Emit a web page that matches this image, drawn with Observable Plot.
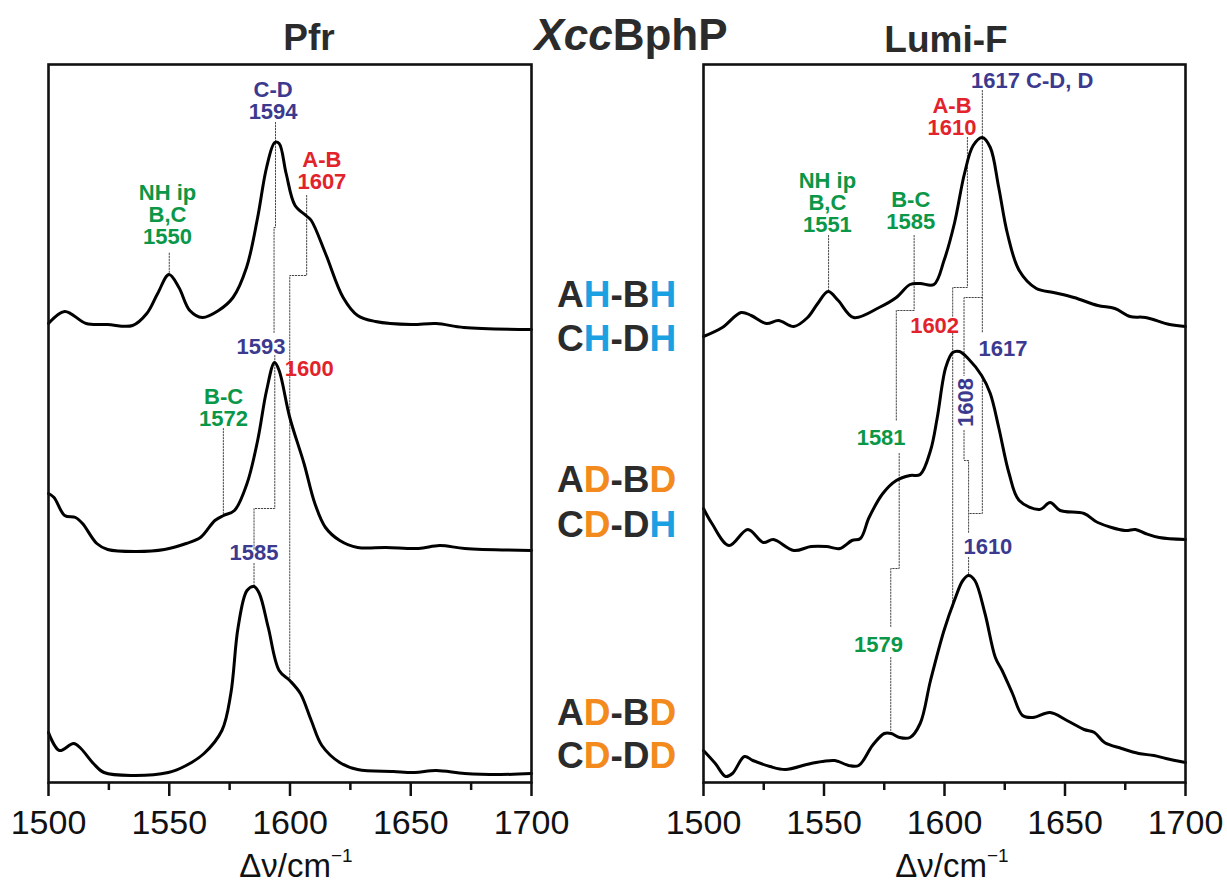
<!DOCTYPE html>
<html>
<head>
<meta charset="utf-8">
<script src="https://cdn.jsdelivr.net/npm/d3@7"></script>
<script src="https://cdn.jsdelivr.net/npm/@observablehq/plot@0.6"></script>
<style>
  html, body { margin: 0; padding: 0; background: #fff; }
  #wrap { position: relative; width: 1227px; height: 888px; overflow: hidden; font-family: "Liberation Sans", Arial, sans-serif; }
  #wrap > svg { position: absolute; }
  #overlay { position: absolute; left: 0; top: 0; pointer-events: none; }
</style>
</head>
<body>
<div id="wrap">
  <svg id="overlay" width="1227" height="888" style="font-family:'Liberation Sans',Arial,sans-serif">
    <text x="309" y="50" text-anchor="middle" font-size="37" font-weight="bold" fill="#2b2b2b">Pfr</text>
    <text x="631" y="50" text-anchor="middle" font-size="44" font-weight="bold" fill="#2b2b2b"><tspan font-style="italic">Xcc</tspan>BphP</text>
    <text x="946" y="52" text-anchor="middle" font-size="37" font-weight="bold" fill="#2b2b2b">Lumi-F</text>
    <g font-size="37" font-weight="bold" fill="#2b2b2b">
      <text x="557" y="307">A<tspan fill="#1ba1e2">H</tspan>-B<tspan fill="#1ba1e2">H</tspan></text>
      <text x="557" y="351">C<tspan fill="#1ba1e2">H</tspan>-D<tspan fill="#1ba1e2">H</tspan></text>
      <text x="557" y="492">A<tspan fill="#f28a1e">D</tspan>-B<tspan fill="#f28a1e">D</tspan></text>
      <text x="557" y="537">C<tspan fill="#f28a1e">D</tspan>-D<tspan fill="#1ba1e2">H</tspan></text>
      <text x="557" y="725">A<tspan fill="#f28a1e">D</tspan>-B<tspan fill="#f28a1e">D</tspan></text>
      <text x="557" y="768">C<tspan fill="#f28a1e">D</tspan>-D<tspan fill="#f28a1e">D</tspan></text>
    </g>
    <g font-size="33" fill="#111">
      <text x="296" y="877" text-anchor="middle">Δν/cm<tspan font-size="19" dy="-15">−1</tspan></text>
      <text x="952" y="877" text-anchor="middle">Δν/cm<tspan font-size="19" dy="-15">−1</tspan></text>
    </g>
  </svg>
</div>
<script>
// ---------- data ----------
const majorTicks = [1500, 1550, 1600, 1650, 1700];
const minorTicks = [1525, 1575, 1625, 1675];

// Pfr panel (left)
const pfrHH_wn = [1500,1506.7,1515.6,1524.4,1534.8,1540.7,1545.2,1549.9,1554,1558.5,1563.7,1570.4,1576.4,1582,1586.6,1590.3,1593.7,1595.5,1598.4,1602.1,1606.6,1608.8,1614.7,1622,1628,1635.4,1650.2,1660.5,1672,1700];
const pfrHH_int = [459,471,459,458,457,469,489,508,495,472,465,472,485,515,565,615,640,639,609,577,567,562,529,485,467,461,458,459,455,453];

const pfrDH_wn = [1500,1502.3,1506.7,1511.2,1514.1,1520,1524.5,1536.3,1548,1557,1562.9,1568.9,1572.5,1577,1582.2,1586.6,1590.3,1593.6,1595.5,1599.9,1605.8,1610.3,1614.7,1620.6,1628,1639.8,1653.2,1662,1672.4,1700];
const pfrDH_int = [289,285,267,265,259,239,233,231,233,239,245,262,267,272,299,342,392,420,412,365,319,279,255,242,235,235,234,237,234,232];

const pfrDD_wn = [1500,1504.5,1510.4,1513.4,1518.6,1523,1534.8,1549.6,1557,1564.4,1571.8,1575.5,1578.5,1582.2,1585.1,1587.3,1591,1595.5,1599.9,1604.3,1608.8,1613.2,1620.6,1628,1642.8,1651.6,1660.5,1672.4,1687.2,1700];
const pfrDD_int = [50,32,39,34,19,10,7,10,17,29,52,89,155,192,196,189,155,112,102,89,62,37,20,13,11,10,12,9,8,9];

// Lumi-F panel (right)
const lumHH_wn = [1500,1507.8,1515.6,1519.8,1526.1,1531.1,1537.5,1543.2,1547.4,1551.7,1555.9,1562.3,1572.9,1580,1585.7,1589.9,1595.6,1599.8,1604.1,1608.3,1611.9,1615.7,1619,1622.5,1626.1,1631,1638.1,1645.2,1653.7,1663.6,1670.7,1677,1683.4,1693.4,1700];
const lumHH_int = [446,455,470,467,459,462,456,465,479,491,482,465,475,485,498,499,498,522,559,609,637,645,635,595,549,512,494,490,485,477,474,466,465,458,456];

const lumDH_wn = [1500,1503.5,1510.6,1518.4,1524.8,1529,1537.5,1544.6,1551,1556.6,1561.6,1565.1,1568.7,1574.4,1580,1585.7,1589.9,1594.2,1597,1600.5,1603.4,1606.2,1609.8,1615.4,1619,1622.5,1626.8,1631,1639.5,1643.8,1648,1657.9,1663.6,1674.9,1679.2,1683.4,1689.1,1700];
const lumDH_int = [274,259,237,253,240,243,232,236,236,234,242,244,265,289,302,307,308,332,365,415,430,431,424,407,389,355,309,282,273,280,272,269,260,252,253,249,245,243];

const lumDD_wn = [1500,1504.9,1509.2,1512,1517,1520.5,1527.6,1534,1544.6,1554.5,1560.2,1564.4,1570.1,1575,1577.9,1581.4,1585.7,1589.9,1594.2,1599.8,1604.1,1607.6,1610,1612.6,1616.8,1621.1,1623.9,1628.2,1632.4,1636.7,1643.8,1650.8,1657.9,1662.2,1666.4,1673.5,1680.6,1686.9,1691.9,1700];
const lumDD_int = [32,19,6,9,26,22,16,13,19,22,17,17,37,49,49,45,45,59,102,152,182,202,207,202,169,125,112,89,67,65,70,62,53,50,40,34,29,27,24,20];

// dotted band-assignment guides: [wavenumber, level] vertices
const pfrGuides = [
  [[1550,510],[1550,531]],
  [[1594,660],[1594,555],[1593.4,555],[1593.4,450]],
  [[1593.7,427],[1593.7,274],[1585.1,274],[1585.1,232]],
  [[1585.1,219],[1585.1,197]],
  [[1606.9,587],[1606.9,507],[1599.9,507],[1599.9,105]],
  [[1572.4,354],[1572.4,269]]
];
const lumGuides = [
  [[1551.9,547],[1551.9,492]],
  [[1587.4,547],[1587.4,472],[1580,472],[1580,362]],
  [[1581.2,329],[1581.2,214],[1577.7,214],[1577.7,155]],
  [[1577.7,125],[1577.7,52]],
  [[1609.5,645],[1609.5,495],[1603.4,495],[1603.4,465]],
  [[1603.4,449],[1603.4,175]],
  [[1615.7,692],[1615.7,449]],
  [[1615.7,485],[1608.1,485],[1608.1,407]],
  [[1608.1,352],[1608.1,322],[1610,322],[1610,249]],
  [[1615.7,405],[1615.7,269],[1610,269]],
  [[1610,225],[1610,207]]
];

// band labels
const GREEN = "#0b9748", RED = "#e2232b", BLUE = "#3b3a8f";
const pfrLabelText = ["NH ip\nB,C\n1550", "C-D\n1594", "A-B\n1607", "1593", "1600", "B-C\n1572", "1585"];
const pfrLabelWn   = [1549.3, 1593, 1613.2, 1588, 1608, 1572.5, 1585.1];
const pfrLabelLvl  = [539, 664, 594, 429, 407, 357, 223];
const pfrLabelCol  = [GREEN, BLUE, RED, BLUE, RED, GREEN, BLUE];

const lumLabelText = ["A-B\n1610", "NH ip\nB,C\n1551", "B-C\n1585", "1602", "1617", "1581", "1610", "1579"];
const lumLabelWn   = [1603.1, 1551.4, 1586, 1595.9, 1624.3, 1573.7, 1618, 1572.6];
const lumLabelLvl  = [648, 551, 554, 450, 427, 338, 229, 131];
const lumLabelCol  = [RED, GREEN, GREEN, RED, BLUE, GREEN, BLUE, GREEN];
const lumTopLabel = {text: "1617 C-D, D", wn: 1611, lvl: 695};
const lumRotLabel = {text: "1608", wn: 1609, lvl: 380};

// ---------- helpers ----------
const series = (id, wn, v) => wn.map((w, i) => ({id, wn: w, v: v[i]}));
const guides = (g) => g.flatMap((pts, k) => pts.map(([wn, v]) => ({id: k, wn, v})));
const labels = (t, w, l, c) => t.map((text, i) => ({text, wn: w[i], v: l[i], color: c[i]}));

function panel({spectra, guideRows, labelRows, extra = [], width, left, marginLeft, marginRight}) {
  const svg = Plot.plot({
    width, height: 888,
    marginTop: 64, marginBottom: 106, marginLeft, marginRight,
    style: {fontFamily: "'Liberation Sans', Arial, sans-serif", color: "#111", background: "transparent", overflow: "visible"},
    x: {domain: [1500, 1700]},
    y: {domain: [0, 718], axis: null},
    marks: [
      Plot.line(guideRows, {x: "wn", y: "v", z: "id", stroke: "#444", strokeWidth: 1, strokeDasharray: "1.4,1.6"}),
      Plot.line(spectra, {x: "wn", y: "v", z: "id", curve: "catmull-rom", stroke: "#000", strokeWidth: 3, strokeLinejoin: "round"}),
      Plot.text(labelRows, {x: "wn", y: "v", text: "text", fill: "color", fontSize: 22, fontWeight: "bold", lineAnchor: "bottom", lineHeight: 0.98}),
      ...extra,
      Plot.frame({stroke: "#111", strokeWidth: 2.6}),
      Plot.axisX(majorTicks, {tickSize: 14, tickPadding: 13, fontSize: 34, strokeWidth: 2.5, tickFormat: (d) => String(d), label: null}),
      Plot.axisX(minorTicks, {tickSize: 8, strokeWidth: 2.5, tickFormat: () => "", label: null})
    ]
  });
  svg.style.left = left + "px";
  svg.style.top = "0px";
  document.getElementById("wrap").insertBefore(svg, document.getElementById("overlay"));
}

panel({
  spectra: [...series(0, pfrHH_wn, pfrHH_int), ...series(1, pfrDH_wn, pfrDH_int), ...series(2, pfrDD_wn, pfrDD_int)],
  guideRows: guides(pfrGuides),
  labelRows: labels(pfrLabelText, pfrLabelWn, pfrLabelLvl, pfrLabelCol),
  width: 560, left: 0, marginLeft: 48, marginRight: 29
});

panel({
  spectra: [...series(0, lumHH_wn, lumHH_int), ...series(1, lumDH_wn, lumDH_int), ...series(2, lumDD_wn, lumDD_int)],
  guideRows: guides(lumGuides),
  labelRows: labels(lumLabelText, lumLabelWn, lumLabelLvl, lumLabelCol),
  extra: [
    Plot.text([lumTopLabel], {x: "wn", y: "lvl", text: "text", fill: BLUE, fontSize: 22, fontWeight: "bold", textAnchor: "start", lineAnchor: "bottom"}),
    Plot.text([lumRotLabel], {x: "wn", y: "lvl", text: "text", fill: BLUE, fontSize: 22, fontWeight: "bold", rotate: -90, textAnchor: "middle", lineAnchor: "middle"})
  ],
  width: 567, left: 660, marginLeft: 43, marginRight: 42
});
</script>
</body>
</html>
